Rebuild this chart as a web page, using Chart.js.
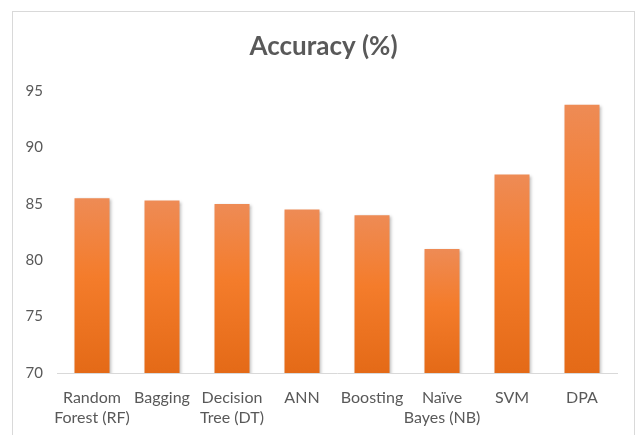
<!DOCTYPE html>
<html>
<head>
<meta charset="utf-8">
<script src="https://cdn.jsdelivr.net/npm/chart.js@4"></script>
<style>
  html, body { margin: 0; padding: 0; background: #ffffff; width: 638px; height: 435px; overflow: hidden; }
  #frame {
    position: absolute; left: 12px; top: 11px; width: 621px; height: 440px;
    border: 1px solid #d9d9d9; background: #ffffff; overflow: hidden;
  }
  canvas { display: block; }
</style>
</head>
<body>
<div id="frame"><canvas id="chart" width="621" height="424"></canvas></div>
<script>
// Classifier accuracy comparison
const categories = [
  ['Random', 'Forest (RF)'],
  'Bagging',
  ['Decision', 'Tree (DT)'],
  'ANN',
  'Boosting',
  ['Naïve', 'Bayes (NB)'],
  'SVM',
  'DPA'
];
const accuracy = [85.5, 85.3, 85.0, 84.5, 84.0, 81.0, 87.6, 93.8];
const yTicks = [70, 75, 80, 85, 90, 95];

const FONT = "Lato, 'Open Sans', sans-serif";
const TEXT = '#595959';

// Vertical orange gradient applied to each bar individually
function barFill(context) {
  const chart = context.chart;
  const area = chart.chartArea;
  if (!area || context.dataIndex === undefined) return '#F27B2C';
  const yScale = chart.scales.y;
  const top = yScale.getPixelForValue(context.raw);
  const bottom = yScale.getPixelForValue(yScale.min);
  const g = chart.ctx.createLinearGradient(0, top, 0, bottom);
  g.addColorStop(0, '#EE8B55');
  g.addColorStop(0.45, '#F47C2B');
  g.addColorStop(1, '#E46A17');
  return g;
}

// Soft drop shadow under the bars
const barShadow = {
  id: 'barShadow',
  beforeDatasetsDraw(chart) {
    const c = chart.ctx;
    c.save();
    c.shadowColor = 'rgba(0,0,0,0.28)';
    c.shadowBlur = 3;
    c.shadowOffsetX = 1.5;
    c.shadowOffsetY = 1;
  },
  afterDatasetsDraw(chart) {
    chart.ctx.restore();
  }
};

new Chart(document.getElementById('chart'), {
  type: 'bar',
  data: {
    labels: categories,
    datasets: [{
      label: 'Accuracy (%)',
      data: accuracy,
      backgroundColor: barFill,
      borderWidth: 0,
      categoryPercentage: 1.0,
      barPercentage: 0.5
    }]
  },
  options: {
    responsive: false,
    animation: false,
    layout: { padding: 0 },
    plugins: {
      legend: { display: false },
      tooltip: { enabled: false },
      title: {
        display: true,
        text: 'Accuracy (%)',
        color: TEXT,
        font: { family: FONT, size: 26, weight: 'bold', lineHeight: 1.2 },
        padding: { top: 19, bottom: 29 }
      }
    },
    scales: {
      x: {
        grid: { display: false, drawTicks: false },
        border: { display: true, color: '#d9d9d9', width: 1 },
        ticks: {
          color: TEXT,
          font: { family: FONT, size: 16, lineHeight: 1.3 },
          padding: 14,
          maxRotation: 0,
          autoSkip: false
        },
        afterFit(scale) { scale.height = 63; }
      },
      y: {
        min: 70,
        max: 95,
        afterBuildTicks(scale) { scale.ticks = yTicks.map(v => ({ value: v })); },
        grid: { display: false, drawTicks: false },
        border: { display: false },
        ticks: {
          color: TEXT,
          font: { family: FONT, size: 15 },
          padding: 14
        },
        afterFit(scale) { scale.width = 44; }
      },
      // empty right-hand axis that only reserves the right margin
      yMargin: {
        position: 'right',
        min: 70,
        max: 95,
        grid: { display: false, drawTicks: false },
        border: { display: false },
        ticks: { display: false },
        afterFit(scale) { scale.width = 17; }
      }
    }
  },
  plugins: [barShadow]
});
</script>
</body>
</html>
